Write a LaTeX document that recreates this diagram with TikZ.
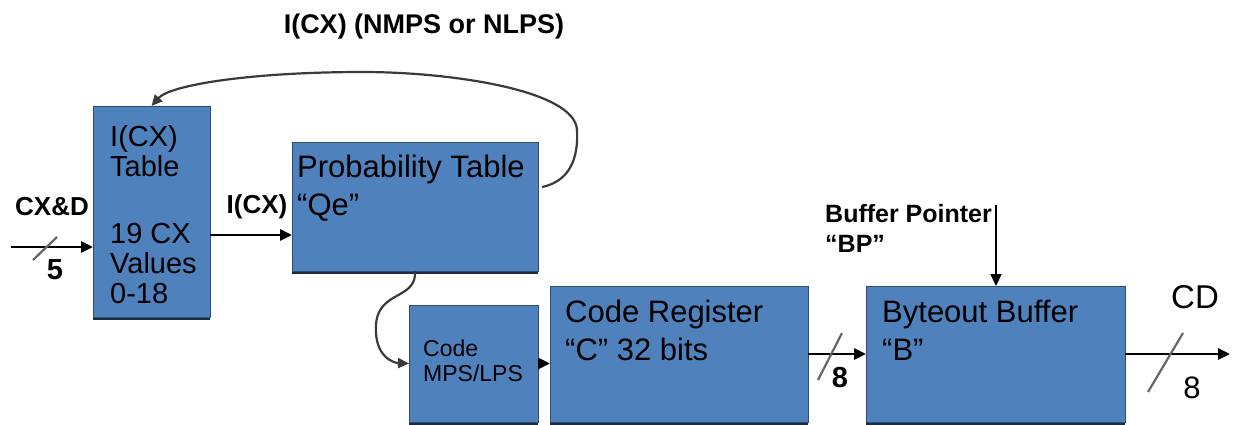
\documentclass[tikz,border=0pt]{standalone}
\usepackage{fontspec}
\setmainfont{Liberation Sans}
\usetikzlibrary{arrows.meta,shadows}

\definecolor{boxblue}{HTML}{4F81BD}
\definecolor{boxedge}{HTML}{2C4D75}
\definecolor{boxshade}{HTML}{1B2B40}
\definecolor{wire}{HTML}{3A3A3A}
\definecolor{tick}{HTML}{666666}

\tikzset{
  blockbox/.style={draw=boxedge, line width=0.8pt, fill=boxblue, anchor=north west,
    inner sep=0pt, outer sep=0pt,
    drop shadow={shadow xshift=0pt, shadow yshift=-3pt, fill=boxshade, opacity=1}},
  boxtext/.style={anchor=north west, align=left, inner sep=0pt, font=\fontsize{31}{38}\selectfont},
  tag/.style={inner sep=0pt, font=\bfseries\fontsize{26}{30}\selectfont},
  flow/.style={line width=2.8pt, -{Triangle[length=12pt,width=11pt]}},
  loopback/.style={draw=wire, line width=2.2pt, -{Triangle[length=11pt,width=10pt]}},
  bus/.style={draw=tick, line width=2.2pt},
}

\begin{document}
\begin{tikzpicture}[x=1pt, y=-1pt]
    \useasboundingbox (0,0) rectangle (1233,424);
    % blocks
    \node[blockbox, minimum width=117pt, minimum height=211pt] (tbl) at (93,106) {};
    \node[blockbox, minimum width=246pt, minimum height=129pt] (prob) at (292,142) {};
    \node[blockbox, minimum width=129pt, minimum height=117pt] (mps) at (409,305) {};
    \node[blockbox, minimum width=258pt, minimum height=136pt] (creg) at (550,286) {};
    \node[blockbox, minimum width=259pt, minimum height=136pt] (bout) at (866,286) {};
    % block texts
    \node[boxtext, font=\fontsize{29}{30}\selectfont] (tbltxt) at (110,125) {I(CX)\\Table\\[37pt]19 CX\\Values\\0-18};
    \node[boxtext] (probtxt) at (297,155) {Probability Table\\“Qe”};
    \node[boxtext, font=\fontsize{23}{25}\selectfont] (mpstxt) at (423,340) {Code\\MPS/LPS};
    \node[boxtext] (cregtxt) at (565,300) {Code Register\\“C” 32 bits};
    \node[boxtext] (bouttxt) at (882,300) {Byteout Buffer\\“B”};
    % labels
    \node[tag, font=\bfseries\fontsize{27}{30}\selectfont] (fbtxt) at (424,27) {I(CX) (NMPS or NLPS)};
    \node[tag] (cxd) at (52,207) {CX\&D};
    \node[tag] (icx) at (257,207) {I(CX)};
    \node[tag, anchor=north west, align=left, font=\bfseries\fontsize{25}{30}\selectfont] (bptr) at (825,204) {Buffer Pointer\\“BP”};
    \node[tag, font=\bfseries\fontsize{29}{30}\selectfont] (five) at (55,270) {5};
    \node[tag, font=\bfseries\fontsize{29}{30}\selectfont] (eightin) at (840,378) {8};
    \node[inner sep=0pt, font=\fontsize{31}{34}\selectfont] (eightout) at (1192,388) {8};
    \node[inner sep=0pt, font=\fontsize{33}{34}\selectfont] (cd) at (1195,297) {CD};
    % connectors
    \coordinate (src) at (11,247);
    \draw[flow] (src) -- (src -| tbl.west);
    \draw[bus] (33,260) -- (57,237);
    \draw[flow] ([yshift=-23.5pt]tbl.east) coordinate (icxout) -- (icxout -| prob.west);
    \draw[loopback] ([xshift=4pt,yshift=-45pt]prob.north east) .. controls (575,180) and (578,150) .. (577,130)
        .. controls (575,90) and (450,72) .. (363,72) .. controls (250,72) and (170,85) .. (tbl.north);
    \draw[loopback] (prob.south) .. controls (417,300) and (378,290) .. (376,325)
        .. controls (374,358) and (395,363) .. (mps.west);
    \draw[flow] (mps.east) -- (mps.east -| creg.west);
    \draw[flow] (creg.east) -- (bout.west);
    \draw[bus] (818,380) -- (842,333);
    \coordinate (cdout) at (1230,354);
    \draw[flow] (bout.east) -- (cdout);
    \draw[bus] (1148,392) -- (1183,333);
    \coordinate (bpin) at (996,205);
    \draw[flow, line width=1.8pt] (bpin) -- (bpin |- bout.north);
\end{tikzpicture}
\end{document}
